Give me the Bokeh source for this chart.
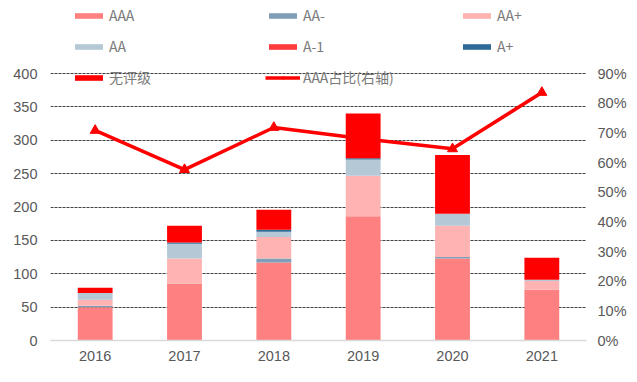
from bokeh.plotting import figure
from bokeh.models import (Range1d, LinearAxis, Legend, LegendItem, PrintfTickFormatter,
                          FixedTicker, ColumnDataSource)
from bokeh.embed import file_html
from bokeh.resources import INLINE

years = ["2016", "2017", "2018", "2019", "2020", "2021"]
AAA = [50, 85, 117, 186, 123, 76]
AA_minus = [2, 0, 6, 0, 2, 0]
AA_plus = [9, 38, 32, 61, 47, 13]
AA = [10, 22, 8, 24, 18, 2]
A_1 = [0, 0, 0, 0, 0, 0]
A_plus = [0, 2, 3, 2, 0, 0]
unrated = [8, 25, 30, 67, 88, 33]
aaa_share = [70.8, 57.6, 71.8, 68.0, 64.6, 83.6]
left_ticks = [0, 50, 100, 150, 200, 250, 300, 350, 400]
right_ticks = [0, 10, 20, 30, 40, 50, 60, 70, 80, 90]

labels = ["AAA", "AA-", "AA+", "AA", "A-1", "A+", "无评级"]
keys = ["AAA", "AA_minus", "AA_plus", "AA", "A_1", "A_plus", "unrated"]
colors = ["#FF8080", "#7F9FB9", "#FFB3B3", "#B4C8D6", "#FF3B3B", "#2E6A96", "#FF0000"]

src = ColumnDataSource(dict(years=years, AAA=AAA, AA_minus=AA_minus, AA_plus=AA_plus,
                            AA=AA, A_1=A_1, A_plus=A_plus, unrated=unrated, share=aaa_share))

# frame spans the full height so the legend (drawn over the top) is not clipped;
# the axis maximum (400 / 90%) sits 73px below the top edge.
plot_h = 340          # frame height in px
axis_h = 267          # px from 0 to the top tick
scale = plot_h / axis_h
y_top = 400 * scale
pct_top = 90 * scale

p = figure(x_range=years, y_range=Range1d(0, y_top), output_backend="svg", toolbar_location=None,
           width=637, height=382, min_border_left=50, min_border_right=51,
           min_border_top=0, min_border_bottom=42)
p.outline_line_color = None
p.background_fill_color = "white"

rs = p.vbar_stack(keys, x="years", width=0.39, source=src, color=colors, line_color=None)

p.extra_y_ranges = {"pct": Range1d(0, pct_top)}
ln = p.line("years", "share", source=src, y_range_name="pct", line_color="#FF0000", line_width=3.5)
sc = p.scatter("years", "share", source=src, y_range_name="pct", marker="triangle", size=10,
               fill_color="#FF0000", line_color="#FF0000")

font = "Liberation Sans"
tcol = "#595959"

p.xgrid.grid_line_color = None
p.ygrid.grid_line_color = "#404040"
p.ygrid.grid_line_dash = "3 1"
p.ygrid.grid_line_width = 1
p.yaxis.ticker = FixedTicker(ticks=left_ticks)

for ax in [p.xaxis[0], p.yaxis[0]]:
    ax.major_tick_line_color = None
    ax.minor_tick_line_color = None
    ax.major_tick_out = 0
    ax.minor_tick_out = 0
    ax.major_label_text_font = font
    ax.major_label_text_font_size = "14.5px"
    ax.major_label_text_color = tcol
p.yaxis.axis_line_color = None
p.yaxis.major_label_standoff = 13
p.xaxis.axis_line_color = "#D9D9D9"
p.xaxis.axis_line_width = 1.5
p.xaxis.major_label_standoff = 10

ra = LinearAxis(y_range_name="pct", ticker=FixedTicker(ticks=right_ticks),
                formatter=PrintfTickFormatter(format="%d%%"))
ra.axis_line_color = None
ra.major_tick_line_color = None
ra.minor_tick_line_color = None
ra.major_tick_out = 0
ra.minor_tick_out = 0
ra.major_label_text_font = font
ra.major_label_text_font_size = "14.5px"
ra.major_label_text_color = tcol
ra.major_label_standoff = 11
p.add_layout(ra, "right")

items = [LegendItem(label=l, renderers=[r]) for l, r in zip(labels, rs)]
items.append(LegendItem(label="AAA占比(右轴)", renderers=[ln, sc]))
leg = Legend(items=items, location=(21, 253), orientation="horizontal", ncols=3,
             glyph_width=35, glyph_height=7, label_width=145, label_height=17, spacing=11,
             label_standoff=3, padding=0, margin=0, border_line_color=None,
             background_fill_alpha=0, label_text_font="Noto Sans CJK SC",
             label_text_font_size="14px", label_text_color="#7A7A7A")
p.add_layout(leg, "center")

open("out.html", "w").write(file_html(p, INLINE))
